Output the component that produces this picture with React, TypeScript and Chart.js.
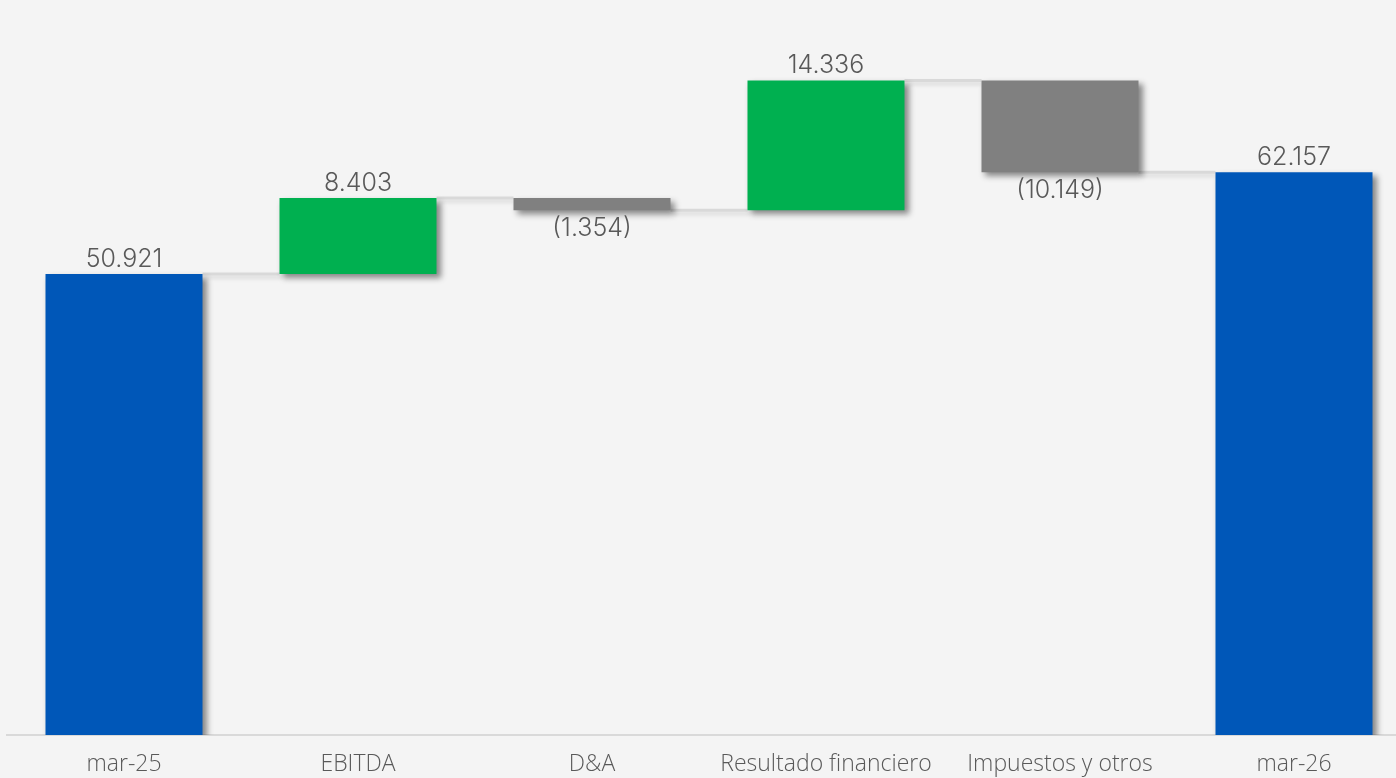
import React, { useEffect, useRef } from "react";
import { Chart, registerables } from "chart.js";

Chart.register(...registerables);

const categories = ["mar-25", "EBITDA", "D&A", "Resultado financiero", "Impuestos y otros", "mar-26"];
const values = [50921, 8403, -1354, 14336, -10149, 62157];
const isTotal = [true, false, false, false, false, true];
const valueLabels = ["50.921", "8.403", "(1.354)", "14.336", "(10.149)", "62.157"];
const barColors = ["#0057B8", "#00B050", "#808080", "#00B050", "#808080", "#0057B8"];
const yMax = 81190;

function buildRanges(): [number, number][] {
  const out: [number, number][] = [];
  let run = 0;
  values.forEach((v, i) => {
    if (isTotal[i]) {
      out.push([0, v]);
      run = v;
    } else {
      out.push([run, run + v]);
      run += v;
    }
  });
  return out;
}

export default function App() {
  const ref = useRef<HTMLCanvasElement | null>(null);

  useEffect(() => {
    document.body.style.margin = "0";
    const ranges = buildRanges();

    const connectors = {
      id: "connectors",
      beforeDatasetsDraw(chart: any) {
        const meta = chart.getDatasetMeta(0);
        const y = chart.scales.y;
        const ctx = chart.ctx;
        ctx.save();
        ctx.strokeStyle = "#d9d9d9";
        ctx.lineWidth = 3;
        ctx.shadowColor = "rgba(0,0,0,0.12)";
        ctx.shadowBlur = 4;
        ctx.shadowOffsetX = 2;
        ctx.shadowOffsetY = 3;
        for (let i = 0; i < ranges.length - 1; i++) {
          const a = meta.data[i];
          const b = meta.data[i + 1];
          const level = ranges[i][1];
          const py = y.getPixelForValue(level);
          ctx.beginPath();
          ctx.moveTo(a.x + a.width / 2, py);
          ctx.lineTo(b.x - b.width / 2, py);
          ctx.stroke();
        }
        ctx.restore();
      },
    };

    const shadow = {
      id: "barShadow",
      beforeDatasetDraw(chart: any) {
        const ctx = chart.ctx;
        ctx.save();
        ctx.shadowColor = "rgba(0,0,0,0.45)";
        ctx.shadowBlur = 6;
        ctx.shadowOffsetX = 4;
        ctx.shadowOffsetY = 4;
      },
      afterDatasetDraw(chart: any) {
        chart.ctx.restore();
      },
    };

    const labels = {
      id: "valueLabels",
      afterDatasetsDraw(chart: any) {
        const meta = chart.getDatasetMeta(0);
        const y = chart.scales.y;
        const ctx = chart.ctx;
        ctx.save();
        ctx.fillStyle = "#595959";
        ctx.font = "300 25px Inter";
        ctx.textAlign = "center";
        ctx.textBaseline = "alphabetic";
        ranges.forEach((r, i) => {
          const el = meta.data[i];
          const top = y.getPixelForValue(Math.max(r[0], r[1]));
          const bottom = y.getPixelForValue(Math.min(r[0], r[1]));
          if (values[i] >= 0) {
            ctx.fillText(valueLabels[i], el.x, top - 7);
          } else {
            ctx.fillText(valueLabels[i], el.x, bottom + 26);
          }
        });
        ctx.restore();
      },
    };

    const chart = new Chart(ref.current as HTMLCanvasElement, {
      type: "bar",
      data: {
        labels: categories,
        datasets: [
          {
            data: ranges as any,
            backgroundColor: barColors,
            borderWidth: 0,
            borderSkipped: false,
            categoryPercentage: 1,
            barPercentage: 0.671,
          },
        ],
      },
      options: {
        animation: false,
        responsive: false,
        maintainAspectRatio: false,
        layout: { padding: { left: 7, right: 9, top: 0, bottom: 0 } },
        plugins: {
          legend: { display: false },
          tooltip: { enabled: false },
        },
        scales: {
          x: {
            grid: { display: false, drawTicks: false },
            border: { display: true, color: "#d9d9d9", width: 2 },
            ticks: {
              color: "#595959",
              font: { family: "'Open Sans'", size: 23, weight: "300" },
              padding: 16,
              maxRotation: 0,
              autoSkip: false,
            },
            afterFit(scale: any) {
              scale.height = 43;
            },
          },
          y: {
            display: false,
            min: 0,
            max: yMax,
          },
        },
      },
      plugins: [connectors, shadow, labels],
    });
    return () => chart.destroy();
  }, []);

  return (
    <div
      style={{
        position: "fixed",
        left: 0,
        top: 0,
        width: 1396,
        height: 778,
        overflow: "hidden",
        background: "#f4f4f4",
      }}
    >
      <canvas ref={ref} width={1420} height={778} style={{ display: "block" }} />
    </div>
  );
}
